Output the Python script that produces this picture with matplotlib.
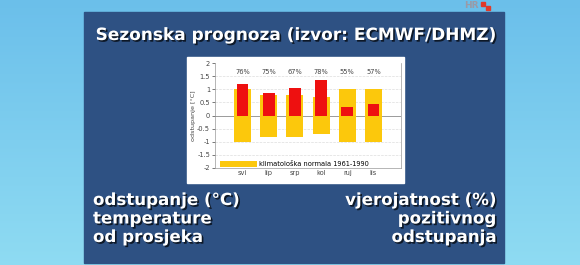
import matplotlib.pyplot as plt
import matplotlib.patheffects as pe
from matplotlib.patches import Rectangle
import numpy as np

# months (Sep - Feb), forecast anomaly, climate normal half-range, probability
months = ['svi', 'lip', 'srp', 'kol', 'ruj', 'lis']
anomaly = [1.2, 0.85, 1.05, 1.35, 0.33, 0.42]
normal = [1.0, 0.8, 0.8, 0.7, 1.0, 1.0]
prob = ['76%', '75%', '67%', '78%', '55%', '57%']
yticks = [2, 1.5, 1, 0.5, 0, -0.5, -1, -1.5, -2]

W, H = 580, 265
fig = plt.figure(figsize=(W / 100, H / 100), dpi=100)

# sky background
bg = fig.add_axes([0, 0, 1, 1])
bg.set_axis_off()
top = np.array([0.42, 0.75, 0.92])
bot = np.array([0.56, 0.86, 0.95])
t = np.linspace(0, 1, 100)[:, None, None]
grad = top * (1 - t) + bot * t
grad = np.repeat(grad, 2, axis=1)
bg.imshow(grad, aspect='auto', extent=[0, W, H, 0])
bg.set_xlim(0, W)
bg.set_ylim(H, 0)

# dark panel and white chart box (pixel coords, y down)
bg.add_patch(Rectangle((84, 12), 420, 251, color='#2e5183', zorder=2))
bg.add_patch(Rectangle((187, 57), 217, 126, color='white', zorder=3))

# small channel logo at the top edge
bg.text(479, 5.5, 'HR', color='#9a9aa6', fontsize=6.5, fontweight='bold',
        ha='right', va='center', zorder=4)
bg.add_patch(Rectangle((481, 2), 4, 4, color='#e03a2a', zorder=4))
bg.add_patch(Rectangle((486, 6), 4, 4, color='#e03a2a', zorder=4))

shadow = [pe.SimplePatchShadow(offset=(1.2, -1.2), shadow_rgbFace='black', alpha=0.7),
          pe.Normal()]
bg.text(295, 35, 'Sezonska prognoza (izvor: ECMWF/DHMZ)', color='white',
        fontsize=12.2, fontweight='bold', ha='center', va='center',
        path_effects=shadow, zorder=5)

left_lines = ['odstupanje (°C)', 'temperature', 'od prosjeka']
right_lines = ['vjerojatnost (%)', 'pozitivnog', 'odstupanja']
for i, (l, r) in enumerate(zip(left_lines, right_lines)):
    y = 200 + i * 18.5
    bg.text(93, y, l, color='white', fontsize=12, fontweight='bold',
            ha='left', va='center', path_effects=shadow, zorder=5)
    bg.text(496, y, r, color='white', fontsize=12, fontweight='bold',
            ha='right', va='center', path_effects=shadow, zorder=5)

# chart
ax = fig.add_axes([215 / W, (H - 168) / H, 186 / W, 105 / H])
ax.set_facecolor('white')
x = np.arange(len(months))
norm = np.array(normal)
yb = ax.bar(x, 2 * norm, bottom=-norm, width=0.65, color='#fcc80c',
            zorder=2, label='klimatološka normala 1961-1990')
ax.bar(x, anomaly, width=0.45, color='#ee1010', zorder=3)
for xi, p in zip(x, prob):
    ax.text(xi, 1.65, p, ha='center', va='center', fontsize=4.8, color='#444444')

ax.axhline(0, color='#9a9a9a', lw=0.7, zorder=1)
for yt in yticks:
    if yt not in (0, 2, -2):
        ax.axhline(yt, color='#dddddd', lw=0.5, ls='--', zorder=1)

ax.set_xlim(-1.05, 6.05)
ax.set_ylim(-2, 2)
ax.set_yticks(yticks)
ax.set_yticklabels([str(v) for v in yticks])
ax.set_xticks(x)
ax.set_xticklabels(months)
ax.tick_params(axis='both', labelsize=4.8, colors='#444444', length=2, width=0.5, pad=1.5)
ax.tick_params(axis='x', length=0, pad=1.5)
ax.set_ylabel('odstupanje [°C]', fontsize=4.6, color='#444444', labelpad=1)
for s in ax.spines.values():
    s.set_color('#999999')
    s.set_linewidth(0.5)
ax.spines['top'].set_visible(False)

ax.legend(handles=[yb], loc='lower left', bbox_to_anchor=(0.025, 0.0),
          fontsize=4.8, frameon=False, handlelength=5.5, handleheight=0.8,
          handletextpad=0.3, borderpad=0.1, borderaxespad=0)

fig.savefig('out.png', dpi=100)
